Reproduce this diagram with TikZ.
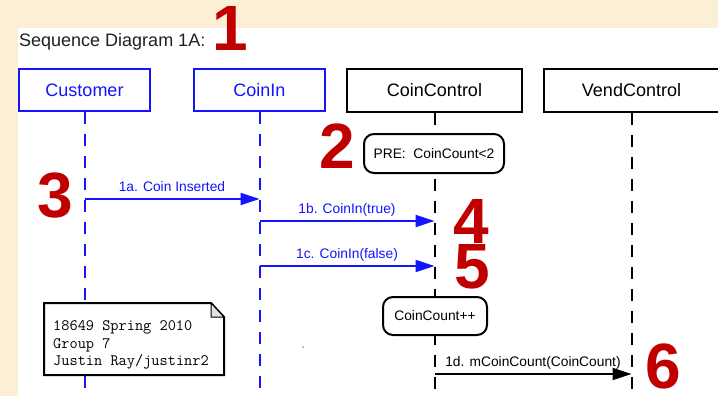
\documentclass[tikz,border=0pt]{standalone}
\usepackage{fontspec}
\setmainfont{Liberation Sans}
\usetikzlibrary{arrows.meta}
\definecolor{seqBlue}{RGB}{20,20,255}
\definecolor{seqRed}{RGB}{192,0,0}
\definecolor{parchment}{RGB}{251,240,214}
\definecolor{foldGray}{RGB}{225,225,225}
\newcommand{\lifeLine}{\draw[line width=2pt, dash pattern=on 12pt off 10pt]}
\newcommand{\redNum}{\node[text=seqRed, font=\fontsize{64}{64}\bfseries\selectfont, inner sep=0pt]}

\begin{document}
\begin{tikzpicture}[x=1pt,y=-1pt,
    actor/.style={draw, line width=2pt, fill=white, inner sep=0pt,
      minimum height=42pt, font=\fontsize{18}{20}\selectfont},
    blueactor/.style={actor, draw=seqBlue, text=seqBlue},
    state/.style={draw, line width=2pt, fill=white, rounded corners=10pt,
      inner sep=0pt, font=\fontsize{13.8}{16}\selectfont},
    msg/.style={line width=2pt, -{Triangle[length=19pt,width=12pt]}},
    msglbl/.style={midway, anchor=base, yshift=8pt, inner sep=0pt,
      font=\fontsize{13.8}{16}\selectfont},
    notetxt/.style={anchor=base west, inner sep=0pt,
      font=\fontsize{15.9}{17.5}\ttfamily}]

      \useasboundingbox (0,0) rectangle (718,396);

      % paper behind, white sheet on top of it
      \fill[parchment] (0,0) rectangle (718,396);
      \fill[white] (18,28) rectangle (718,396);

      \node[anchor=base west, inner sep=0pt, text={rgb,255:red,32;green,32;blue,32},
        font=\fontsize{18}{20}\selectfont] (title) at (19,47) {Sequence Diagram 1A:};

      % the four objects:
      %   Customer   CoinIn   CoinControl   VendControl
      \node[blueactor, minimum width=131pt] (cust) at (84.5,90) {Customer};
      \node[blueactor, minimum width=131pt] (coinin) at (259.5,90) {CoinIn};
      \node[actor, minimum width=175pt] (coinctl) at (434.5,90.5) {CoinControl};
      \node[actor, minimum width=175pt] (vendctl) at (631.5,90.5) {VendControl};

      % lifelines down to the bottom edge
      \coordinate (custEnd) at (84.5,396);
      \coordinate (coininEnd) at (259.5,396);
      \coordinate (coinctlEnd) at (434.5,396);
      \coordinate (vendctlEnd) at (631.5,396);
      \lifeLine[seqBlue] (cust) -- (custEnd);
      \lifeLine[seqBlue] (coinin) -- (coininEnd);
      \lifeLine (coinctl) -- (coinctlEnd);
      \lifeLine (vendctl) -- (vendctlEnd);

      % states on the CoinControl lifeline
      \node[state, minimum width=140pt, minimum height=39pt] (pre) at (434,153.5) {PRE:\ \ CoinCount<2};
      \node[state, minimum width=104pt, minimum height=38pt] (count) at (435,316) {CoinCount++};

      % messages
      \coordinate (a1) at (84.5,199);   \coordinate (a2) at (259.5,199);
      \coordinate (b1) at (259.5,221);  \coordinate (b2) at (434.5,221);
      \coordinate (c1) at (259.5,266);  \coordinate (c2) at (434.5,266);
      \coordinate (d1) at (434.5,374);  \coordinate (d2) at (631.5,374);
      \draw[msg, seqBlue] (a1) -- node[msglbl] (lblA) {1a. Coin Inserted} (a2);
      \draw[msg, seqBlue] (b1) -- node[msglbl] (lblB) {1b. CoinIn(true)} (b2);
      \draw[msg, seqBlue] (c1) -- node[msglbl] (lblC) {1c. CoinIn(false)} (c2);
      \draw[msg] (d1) -- node[msglbl] (lblD) {1d. mCoinCount(CoinCount)} (d2);

      % note with folded corner
      \draw[line width=2pt, fill=white, line join=miter]
        (44,303) -- (211,303) -- (224,317) -- (224,375) -- (44,375) -- cycle;
      \draw[line width=1pt, fill=foldGray] (211,303) -- (211,317) -- (224,317) -- cycle;
      \node[notetxt] (note1) at (53,330) {18649 Spring 2010};
      \node[notetxt] (note2) at (53,348) {Group 7};
      \node[notetxt] (note3) at (53,365) {Justin Ray/justinr2};

      \fill[gray] (303,347) circle (0.8);

      % red markers
      \redNum (n1) at (230.5,28.5) {1};
      \redNum (n2) at (337.5,146.5) {2};
      \redNum (n3) at (55.5,196) {3};
      \redNum (n4) at (471,221) {4};
      \redNum (n5) at (472,267) {5};
      \redNum (n6) at (663.5,366) {6};

    \end{tikzpicture}
\end{document}
